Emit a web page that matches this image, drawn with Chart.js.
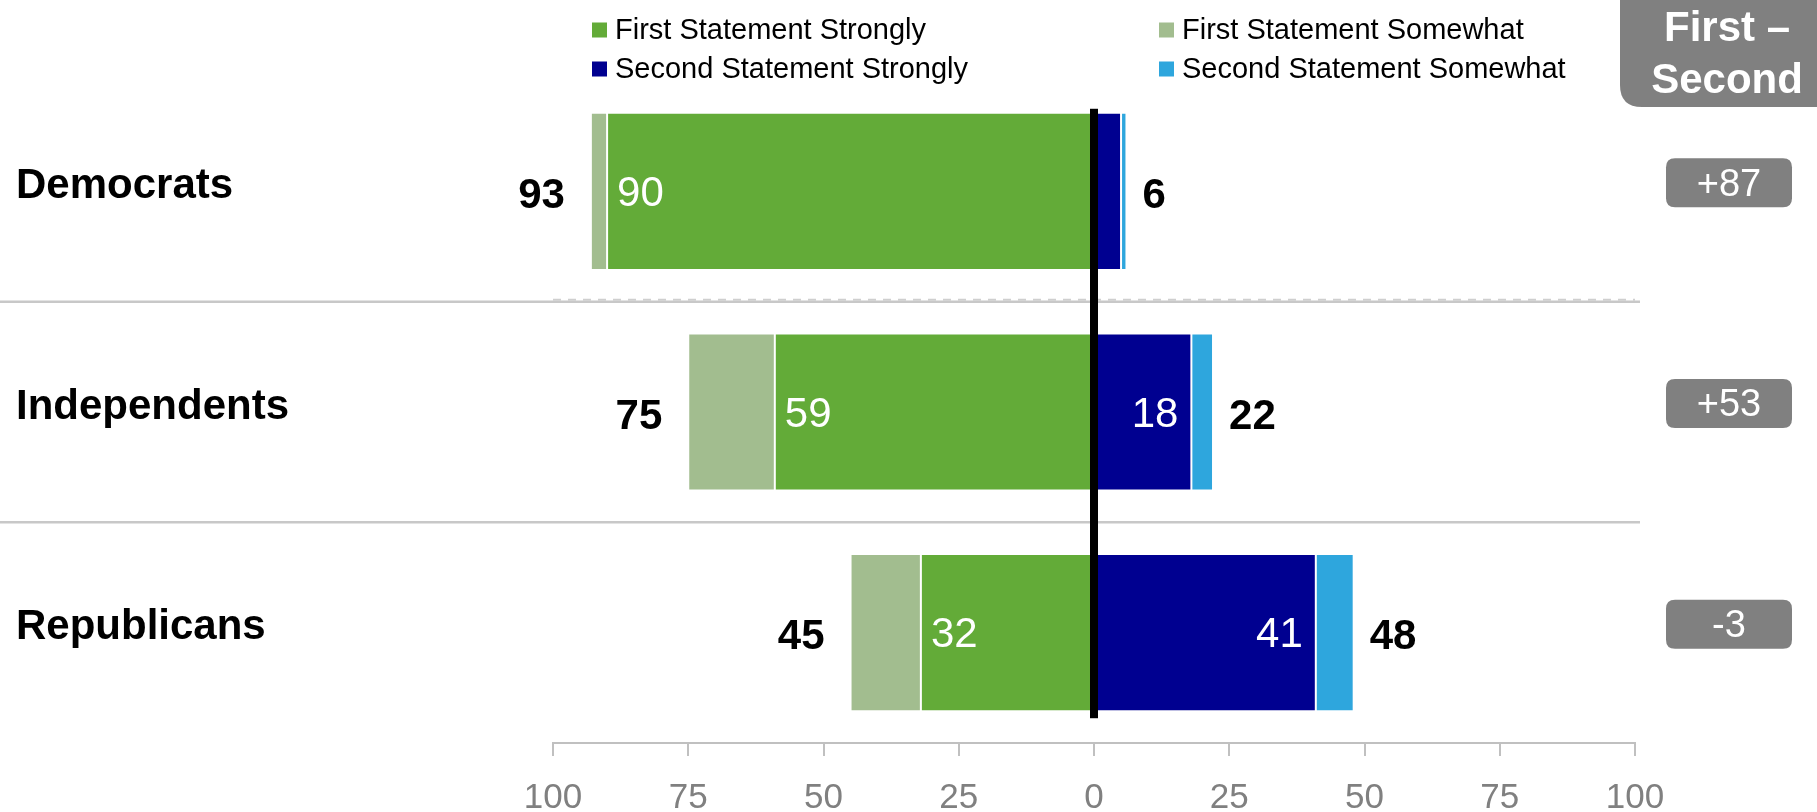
<!DOCTYPE html>
<html><head><meta charset="utf-8">
<script src="https://cdn.jsdelivr.net/npm/chart.js@4"></script>
<style>html,body{margin:0;padding:0;background:#fff}#wrap{position:relative;width:1817px;height:812px}</style>
</head><body><div id="wrap"><canvas id="c"></canvas></div>
<script>
const categories = ['Democrats', 'Independents', 'Republicans'];
const firstStrongly = [90, 59, 32];
const firstSomewhat = [3, 16, 13];
const secondStrongly = [5, 18, 41];
const secondSomewhat = [1, 4, 7];
const firstTotals = [93, 75, 45];
const secondTotals = [6, 22, 48];
const netLabels = ['+87', '+53', '-3'];
const seriesNames = ['First Statement Strongly', 'First Statement Somewhat', 'Second Statement Strongly', 'Second Statement Somewhat'];
const headerLines = ['First \u2013', 'Second'];
const xMin = -100, xMax = 100, xStep = 25;

const colors = ['#63AB38', '#A2BD8F', '#000090', '#2EA6DD'];
const FONT = "'Liberation Sans', Arial, sans-serif";

function rr(ctx, x, y, w, h, r) {
  ctx.beginPath();
  ctx.moveTo(x + r, y);
  ctx.lineTo(x + w - r, y); ctx.quadraticCurveTo(x + w, y, x + w, y + r);
  ctx.lineTo(x + w, y + h - r); ctx.quadraticCurveTo(x + w, y + h, x + w - r, y + h);
  ctx.lineTo(x + r, y + h); ctx.quadraticCurveTo(x, y + h, x, y + h - r);
  ctx.lineTo(x, y + r); ctx.quadraticCurveTo(x, y, x + r, y);
  ctx.closePath();
}

const custom = {
  id: 'custom',
  beforeDatasetsDraw(chart) {
    const ctx = chart.ctx, xs = chart.scales.x, ys = chart.scales.y;
    ctx.save();
    ctx.strokeStyle = '#c8c8c8'; ctx.lineWidth = 2.5;
    for (let i = 0; i < categories.length - 1; i++) {
      const y = (ys.getPixelForValue(i) + ys.getPixelForValue(i + 1)) / 2;
      ctx.beginPath(); ctx.moveTo(0, y); ctx.lineTo(xs.right + 5, y); ctx.stroke();
      if (i === 0) {
        ctx.save();
        ctx.setLineDash([8, 7]); ctx.lineWidth = 2; ctx.strokeStyle = '#cfcfcf';
        ctx.beginPath(); ctx.moveTo(xs.left, y - 2); ctx.lineTo(xs.right, y - 2); ctx.stroke();
        ctx.restore();
      }
    }
    ctx.restore();
  },
  afterDatasetsDraw(chart) {
    const ctx = chart.ctx, xs = chart.scales.x, ys = chart.scales.y;
    const m = [0, 1, 2, 3].map(i => chart.getDatasetMeta(i));
    ctx.save();
    // zero line
    const x0 = xs.getPixelForValue(0);
    const b0 = m[0].data[0], bn = m[0].data[categories.length - 1];
    const yTop = b0.y - b0.height / 2 - 4, yBot = bn.y + bn.height / 2 + 7;
    ctx.fillStyle = '#000';
    ctx.fillRect(x0 - 4, yTop, 8, yBot - yTop);

    ctx.textBaseline = 'middle';
    for (let i = 0; i < categories.length; i++) {
      const yc = ys.getPixelForValue(i);
      // category label
      ctx.fillStyle = '#000'; ctx.font = 'bold 42px ' + FONT; ctx.textAlign = 'left';
      ctx.fillText(categories[i], 16, yc - 5);
      // totals
      ctx.textAlign = 'right';
      ctx.fillText(String(firstTotals[i]), m[1].data[i].x - 26, yc + 5);
      ctx.textAlign = 'left';
      ctx.fillText(String(secondTotals[i]), m[3].data[i].x + 16, yc + 5);
      // inner labels
      ctx.fillStyle = '#fff'; ctx.font = '42px ' + FONT;
      ctx.textAlign = 'left';
      ctx.fillText(String(firstStrongly[i]), m[0].data[i].x + 10, yc + 3);
      if (secondStrongly[i] >= 10) {
        ctx.textAlign = 'right';
        ctx.fillText(String(secondStrongly[i]), m[2].data[i].x - 13, yc + 3);
      }
      // net boxes
      ctx.fillStyle = '#808080';
      rr(ctx, 1666, yc - 9 - 24, 126, 49, 9); ctx.fill();
      ctx.fillStyle = '#fff'; ctx.font = '38px ' + FONT; ctx.textAlign = 'center';
      ctx.fillText(netLabels[i], 1729, yc - 9 + 3);
    }
    // header box
    ctx.fillStyle = '#808080';
    rr(ctx, 1620, -40, 240, 147, 22); ctx.fill();
    ctx.fillStyle = '#fff'; ctx.font = 'bold 42px ' + FONT; ctx.textAlign = 'center';
    ctx.fillText(headerLines[0], 1727, 29);
    ctx.fillText(headerLines[1], 1727, 81);
    // legend
    const lx = [592, 1159], ly = [30, 69];
    const pos = [[0, 0], [1, 0], [0, 1], [1, 1]];
    ctx.font = '29px ' + FONT; ctx.textAlign = 'left';
    for (let k = 0; k < 4; k++) {
      const [c, r] = pos[k];
      ctx.fillStyle = colors[k];
      ctx.fillRect(lx[c], ly[r] - 7.5, 15, 15);
      ctx.fillStyle = '#000';
      ctx.fillText(seriesNames[k], lx[c] + 23, ly[r] + 1);
    }
    ctx.restore();
  }
};

const seriesData = [
  firstStrongly.map(v => -v),
  firstSomewhat.map(v => -v),
  secondStrongly,
  secondSomewhat
];

new Chart(document.getElementById('c'), {
  type: 'bar',
  data: {
    labels: categories,
    datasets: seriesData.map((d, k) => ({
      label: seriesNames[k],
      data: d,
      backgroundColor: colors[k],
      borderColor: '#ffffff',
      borderWidth: 1,
      borderSkipped: false,
      categoryPercentage: 1,
      barPercentage: 0.712
    }))
  },
  options: {
    indexAxis: 'y',
    responsive: true,
    maintainAspectRatio: false,
    animation: false,
    layout: { padding: { left: 553, right: 182, top: 81, bottom: 0 } },
    plugins: { legend: { display: false }, tooltip: { enabled: false } },
    scales: {
      x: {
        stacked: true, min: xMin, max: xMax,
        afterFit: s => { s.height = 69; },
        ticks: { stepSize: xStep, color: '#808080', font: { family: FONT, size: 35 }, padding: 21,
          callback: v => String(Math.abs(v)) },
        grid: { drawOnChartArea: false, drawTicks: true, tickLength: 13, color: '#c0c0c0', lineWidth: 2 },
        border: { display: true, color: '#c0c0c0', width: 2 }
      },
      y: { stacked: true, display: false }
    }
  },
  plugins: [custom]
});
</script>
</body></html>
